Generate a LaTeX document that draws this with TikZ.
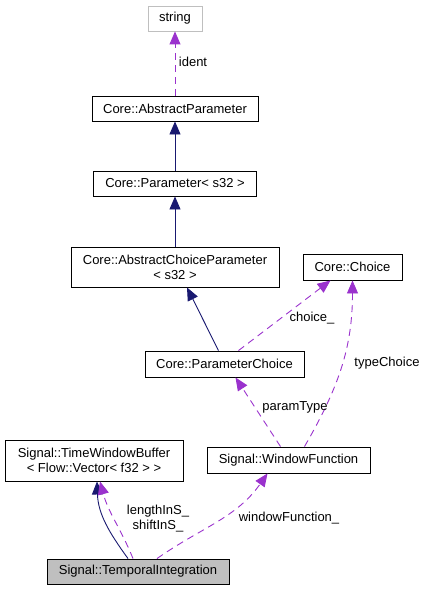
\documentclass[tikz,border=0pt]{standalone}
\usepackage{fontspec}
\setmainfont{Liberation Sans}
\usetikzlibrary{arrows.meta,calc}
\definecolor{dgnavy}{RGB}{25,25,112}
\definecolor{dgpurple}{RGB}{154,50,205}
\definecolor{dggray}{RGB}{191,191,191}
\tikzset{
  cls/.style={draw=black, line width=0.9pt, fill=white, minimum height=25pt,
              inner sep=2pt, align=center, font=\fontsize{13}{15}\selectfont},
  extcls/.style={cls, draw=dggray},
  selcls/.style={cls, fill=dggray},
  inherit/.style={-{Triangle[length=13pt,width=11pt]}, line width=0.9pt, dgnavy},
  usage/.style={-{Triangle[length=13pt,width=11pt]}, line width=0.9pt, dgpurple,
                dash pattern=on 7pt off 5pt},
  ulbl/.style={font=\fontsize{13}{15}\selectfont, inner sep=0pt, align=center}
}

\begin{document}
\begin{tikzpicture}[x=1pt, y=-1pt]
    \useasboundingbox (0,0) rectangle (426,591);
    % classes
    \node[extcls, minimum width=54pt] (str) at (175,18.5) {string};
    \node[cls, minimum width=166pt] (absparam) at (175,108.5) {Core::AbstractParameter};
    \node[cls, minimum width=163pt] (param) at (175,183.5) {Core::Parameter< s32 >};
    \node[cls, minimum width=208pt, minimum height=40pt] (abschoice) at (175,267)
        {Core::AbstractChoiceParameter\\< s32 >};
    \node[cls, minimum width=99pt, minimum height=26pt] (choice) at (352.5,267) {Core::Choice};
    \node[cls, minimum width=159pt, minimum height=26pt] (parchoice) at (224.5,364) {Core::ParameterChoice};
    \node[cls, minimum width=178pt, minimum height=41pt] (twb) at (94,460.5)
        {Signal::TimeWindowBuffer\\< Flow::Vector< f32 > >};
    \node[cls, minimum width=163pt, minimum height=26pt] (winfunc) at (288.5,460) {Signal::WindowFunction};
    \node[selcls, minimum width=182pt] (temporal) at (138,571.5) {Signal::TemporalIntegration};
    % inheritance
    \draw[inherit] (param) -- (absparam);
    \draw[inherit] (abschoice) -- (param);
    \draw[inherit] ([xshift=-6pt]parchoice.north) -- ([xshift=12pt]abschoice.south);
    \draw[inherit] ([xshift=-10pt]temporal.north) to[out=126, in=-88] ([xshift=3pt]twb.south);
    % usage
    \draw[usage] (absparam) -- (str);
    \draw[usage] ([xshift=14pt]parchoice.north) -- ([xshift=-22pt]choice.south);
    \draw[usage] ([xshift=16pt]winfunc.north) to[out=60, in=-90] (choice.south);
    \draw[usage] ([xshift=-8pt]winfunc.north) -- ([xshift=11pt]parchoice.south);
    \draw[usage] ([xshift=-5pt]temporal.north) to[out=112, in=-75] ([xshift=6pt]twb.south);
    \draw[usage] ([xshift=19pt]temporal.north) to[out=35, in=-125] ([xshift=-21pt]winfunc.south);
    % labels
    \node[ulbl] (lident) at (193,62) {ident};
    \node[ulbl] (lchoice) at (312,318) {choice\_};
    \node[ulbl] (ltype) at (387,363) {typeChoice};
    \node[ulbl] (lparam) at (295,407) {paramType};
    \node[ulbl] (lshift) at (158,519) {lengthInS\_\\shiftInS\_};
    \node[ulbl] (lwin) at (289,518) {windowFunction\_};
\end{tikzpicture}
\end{document}
